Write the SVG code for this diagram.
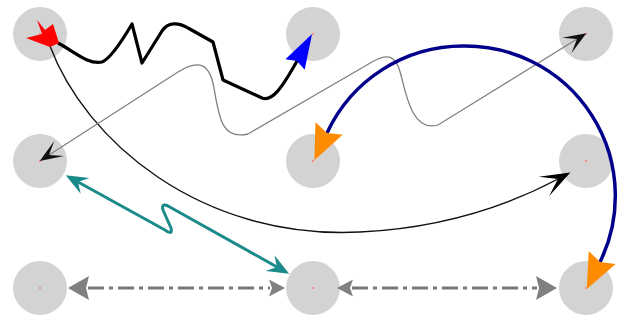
<svg xmlns="http://www.w3.org/2000/svg" width="619" height="322" viewBox="0 0 619 322">
<style>
.node{fill:#d3d3d3}
.dot{fill:#ff7777}
.thick{fill:none;stroke:#000;stroke-width:3.2;stroke-linejoin:round}
.thin{fill:none;stroke:#111;stroke-width:1.4}
.grey{fill:none;stroke:#808080;stroke-width:1.3}
.navy{fill:none;stroke:#00008b;stroke-width:3.5}
.teal{fill:none;stroke:#1b8a8a;stroke-width:3;stroke-linejoin:round}
.dash{fill:none;stroke:#777;stroke-width:3;stroke-dasharray:16 5 4 5}
</style>
<defs>
<marker id="mOrange" markerUnits="userSpaceOnUse" markerWidth="1" markerHeight="1" refX="0" refY="0" orient="auto-start-reverse" overflow="visible"><path d="M30,0 L-5,-15 L0,0 L-5,15 Z" fill="#ff8c00"/></marker>
<marker id="mBlue" markerUnits="userSpaceOnUse" markerWidth="1" markerHeight="1" refX="0" refY="0" orient="auto" overflow="visible"><path d="M31,0 L-4,-11 L0,0 L-4,11 Z" fill="#0000ff"/></marker>
<marker id="mTeal" markerUnits="userSpaceOnUse" markerWidth="1" markerHeight="1" refX="0" refY="0" orient="auto-start-reverse" overflow="visible"><path d="M14,0 L-8,-9 L0,0 L-8,9 Z" fill="#1b8a8a"/></marker>
<marker id="mBlackBig" markerUnits="userSpaceOnUse" markerWidth="1" markerHeight="1" refX="0" refY="0" orient="auto" overflow="visible"><path d="M14,0 L-16,-11 L0,0 L-16,11 Z" fill="#000"/></marker>
<marker id="mBlackSm" markerUnits="userSpaceOnUse" markerWidth="1" markerHeight="1" refX="0" refY="0" orient="auto-start-reverse" overflow="visible"><path d="M11,0 L-12,-9 L0,0 L-12,9 Z" fill="#111"/></marker>
<marker id="mGreyBig" markerUnits="userSpaceOnUse" markerWidth="1" markerHeight="1" refX="0" refY="0" orient="auto-start-reverse" overflow="visible"><path d="M20,0 L-1,-12 L2,0 L-1,12 Z" fill="#808080"/></marker>
<marker id="mGreySm" markerUnits="userSpaceOnUse" markerWidth="1" markerHeight="1" refX="0" refY="0" orient="auto-start-reverse" overflow="visible"><path d="M15,0 L-1,-8.5 L2,0 L-1,8.5 Z" fill="#808080"/></marker>
</defs>
<g id="n-top-left"><circle class="node" cx="40" cy="34" r="27"/><circle class="dot" cx="40" cy="34" r="1"/></g>
<g id="n-top-mid"><circle class="node" cx="313" cy="34" r="27"/><circle class="dot" cx="313" cy="34" r="1"/></g>
<g id="n-top-right"><circle class="node" cx="586" cy="34" r="27"/><circle class="dot" cx="586" cy="34" r="1"/></g>
<g id="n-mid-left"><circle class="node" cx="40" cy="161" r="27"/><circle class="dot" cx="40" cy="161" r="1"/></g>
<g id="n-mid-mid"><circle class="node" cx="313" cy="161" r="27"/><circle class="dot" cx="313" cy="161" r="1"/></g>
<g id="n-mid-right"><circle class="node" cx="586" cy="161" r="27"/><circle class="dot" cx="586" cy="161" r="1"/></g>
<g id="n-bot-left"><circle class="node" cx="40" cy="288" r="27"/><circle class="dot" cx="40" cy="288" r="1"/></g>
<g id="n-bot-mid"><circle class="node" cx="313" cy="288" r="27"/><circle class="dot" cx="313" cy="288" r="1"/></g>
<g id="n-bot-right"><circle class="node" cx="586" cy="288" r="27"/><circle class="dot" cx="586" cy="288" r="1"/></g>
<g id="connectors">
<path class="thin" d="M50,46 C85,140 200,240 360,232 C440,228 505,207 558,179" marker-end="url(#mBlackBig)"/>
<path class="grey" d="M49,155 L178,72 C200,58 210,65 214,88 C219,118 222,140 248,134 L372,62 C388,53 396,55 401,75 C407,100 414,132 438,125 L577,39" marker-start="url(#mBlackSm)" marker-end="url(#mBlackSm)"/>
<path class="thick" d="M58,43 C75,52 88,65 102,62 Q112,58 132,24 L142,63 L162,31 C168,22 178,22 188,28 L213,42 L223,80 L262,98 C272,102 282,88 297,61" marker-end="url(#mBlue)"/>
<polygon points="37,20 45,30 53,24 59,43 50,47 26,38 42,34" fill="#ff0000"/>
<path class="navy" d="M600,262 A150,150 0 0 0 463,46 A150,150 0 0 0 327,133" marker-start="url(#mOrange)" marker-end="url(#mOrange)"/>
<path class="teal" d="M78,182 L165,230 Q173,236 171,228 L163,210 Q161,203 168,206 L277,267" marker-start="url(#mTeal)" marker-end="url(#mTeal)"/>
<path class="dash" d="M88,288 L270,288" marker-start="url(#mGreyBig)" marker-end="url(#mGreySm)"/>
<path class="dash" d="M352,288 L537,288" marker-start="url(#mGreySm)" marker-end="url(#mGreyBig)"/>
</g>
</svg>
